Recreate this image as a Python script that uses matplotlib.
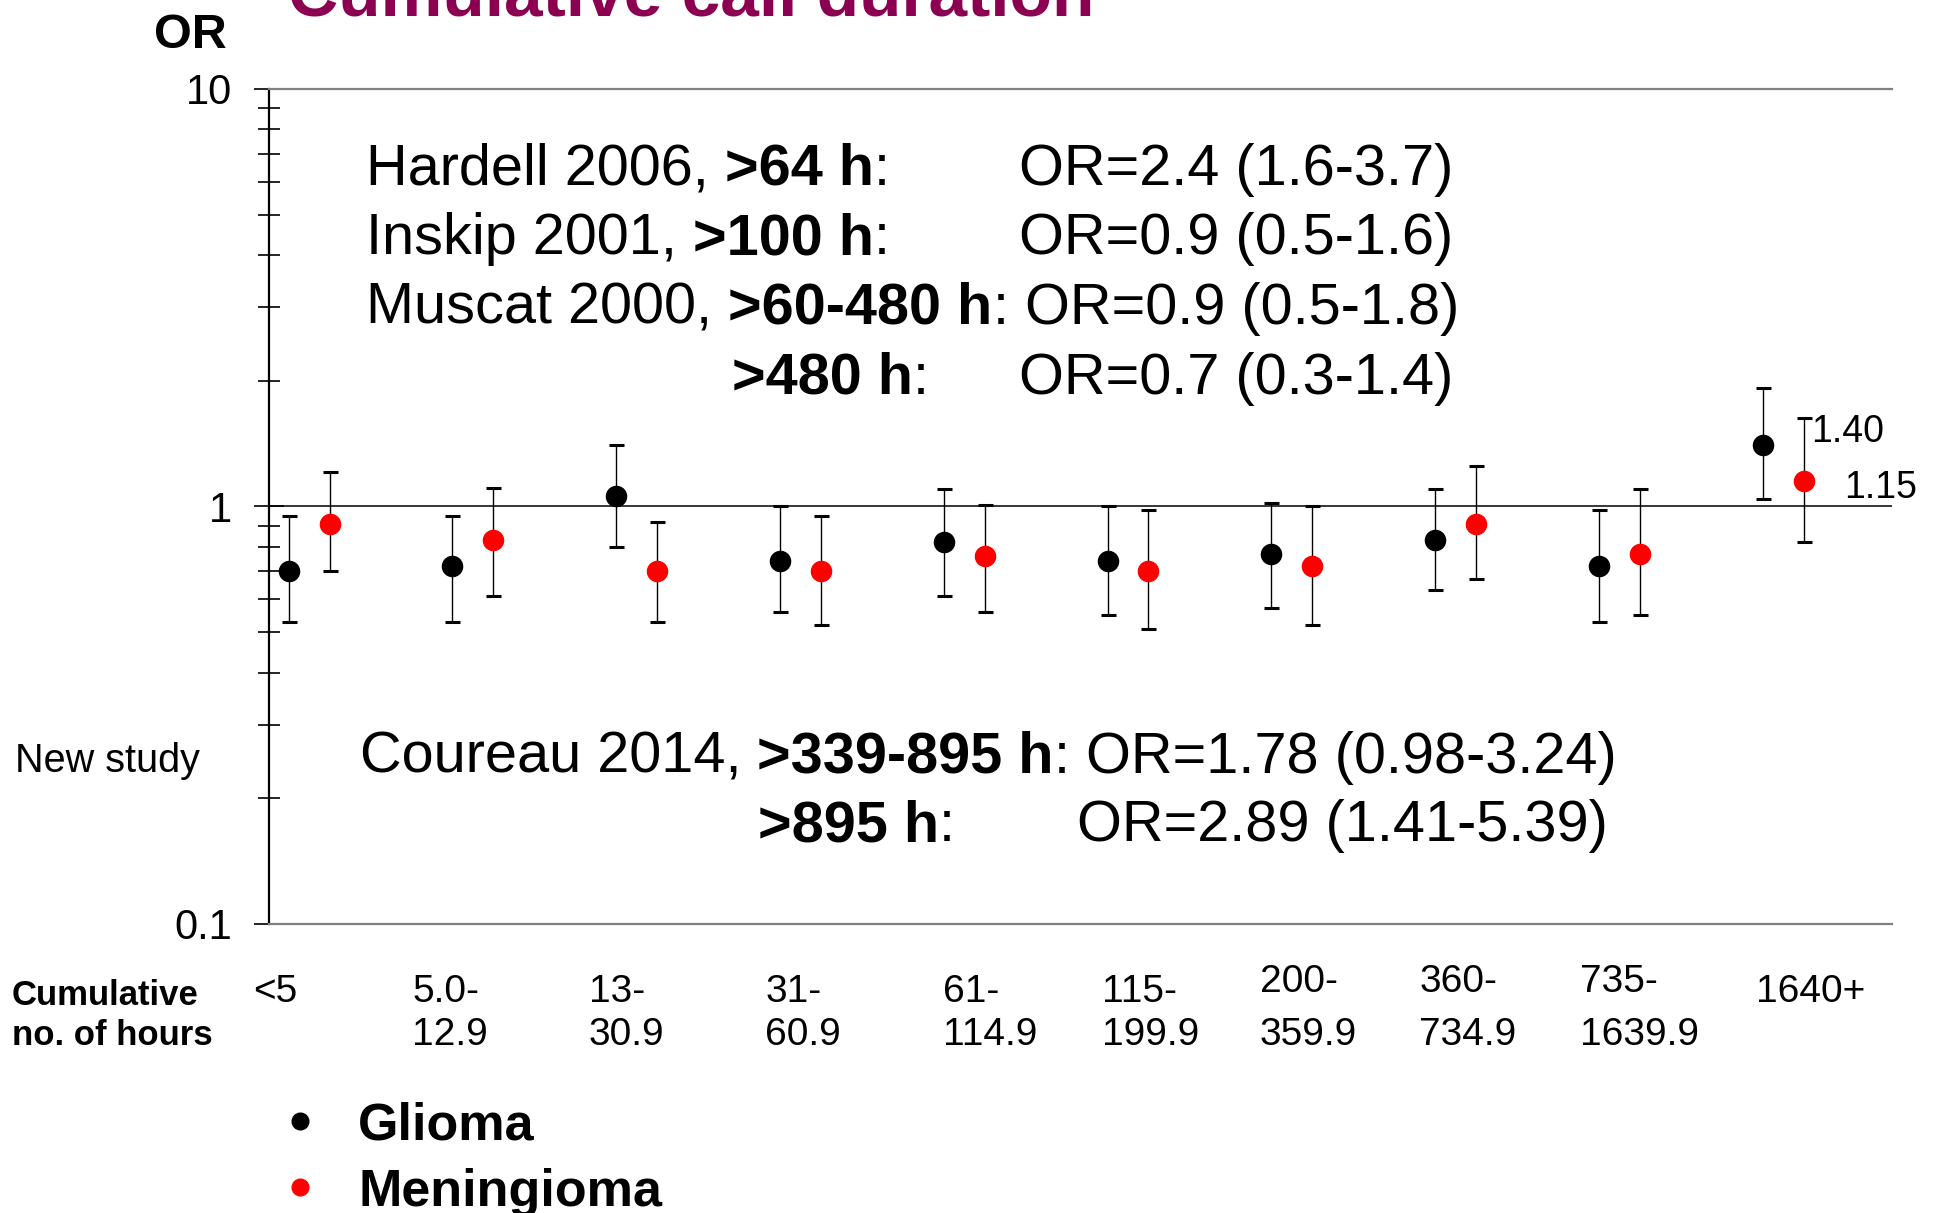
import matplotlib
matplotlib.use('Agg')
import matplotlib.pyplot as plt
import numpy as np
from matplotlib.lines import Line2D
from matplotlib.ticker import LogLocator, NullFormatter, FixedLocator, FixedFormatter

plt.rcParams['font.family'] = ['Liberation Sans', 'DejaVu Sans']

# categories of cumulative call time (hours)
cat_line1 = ['<5', '5.0-', '13-', '31-', '61-', '115-', '200-', '360-', '735-', '1640+']
cat_line2 = ['', '12.9', '30.9', '60.9', '114.9', '199.9', '359.9', '734.9', '1639.9', '']

# odds ratios with 95% CI
glioma_or = [0.70, 0.72, 1.06, 0.74, 0.82, 0.74, 0.77, 0.83, 0.72, 1.40]
glioma_lo = [0.53, 0.53, 0.80, 0.56, 0.61, 0.55, 0.57, 0.63, 0.53, 1.04]
glioma_hi = [0.95, 0.95, 1.40, 1.00, 1.10, 1.00, 1.02, 1.10, 0.98, 1.92]

mening_or = [0.91, 0.83, 0.70, 0.70, 0.76, 0.70, 0.72, 0.91, 0.77, 1.15]
mening_lo = [0.70, 0.61, 0.53, 0.52, 0.56, 0.51, 0.52, 0.67, 0.55, 0.82]
mening_hi = [1.21, 1.11, 0.92, 0.95, 1.01, 0.98, 1.00, 1.25, 1.10, 1.63]

# left edge of each category label (data x) and first-line raise
xlab_pos = [-0.343, 0.629, 1.707, 2.785, 3.870, 4.842, 5.806, 6.778, 7.758, 8.835]
xlab_raise = [0, 0, 0, 0, 0, 0, 1, 1, 1, 0]

TITLE_COL = '#8B0050'
FS = 41.5

fig = plt.figure(figsize=(19.35, 12.13), dpi=100)
ax = fig.add_axes([0.139, 0.2383, 0.8388, 0.6884])

n = len(cat_line1)
xi = np.arange(n)
off = 0.125

g = np.array(glioma_or)
m = np.array(mening_or)
ax.errorbar(xi - off, g, yerr=[g - np.array(glioma_lo), np.array(glioma_hi) - g],
            fmt='o', color='black', ms=14.5, ecolor='black', elinewidth=1.0,
            capsize=5.4, capthick=2.2, zorder=3)
ax.errorbar(xi + off, m, yerr=[m - np.array(mening_lo), np.array(mening_hi) - m],
            fmt='o', color='red', mec='red', ms=14.5, ecolor='black', elinewidth=1.0,
            capsize=5.4, capthick=2.2, zorder=3)

# value labels for the last category
ax.annotate('%.2f' % g[-1], xy=(xi[-1] - off, g[-1]), xytext=(35, 10),
            textcoords='offset points', fontsize=27, ha='left', va='center')
ax.annotate('%.2f' % m[-1], xy=(xi[-1] + off, m[-1]), xytext=(29, -5),
            textcoords='offset points', fontsize=27, ha='left', va='center',
            annotation_clip=False)

ax.set_yscale('log')
ax.set_ylim(0.1, 10)
ax.set_xlim(-0.245, 9.665)
ax.axhline(1, color='black', lw=1.1, zorder=1)

ax.yaxis.set_major_locator(FixedLocator([0.1, 1, 10]))
ax.yaxis.set_major_formatter(FixedFormatter(['0.1', '1', '10']))
ax.yaxis.set_minor_locator(LogLocator(base=10, subs=np.arange(2, 10)))
ax.yaxis.set_minor_formatter(NullFormatter())
ax.tick_params(axis='y', which='major', direction='inout', length=21.6, width=1.2,
               labelsize=30, pad=15.8)
ax.tick_params(axis='y', which='minor', direction='inout', length=15.8, width=1.2)
ax.set_xticks([])

ax.spines['right'].set_visible(False)
ax.spines['left'].set_linewidth(1.6)
ax.spines['top'].set_color('#808080')
ax.spines['top'].set_linewidth(1.6)
ax.spines['bottom'].set_color('#808080')
ax.spines['bottom'].set_linewidth(1.6)

# category labels under the axis
tr = ax.get_xaxis_transform()
for i in range(n):
    y1 = -0.0934 + 0.012 * xlab_raise[i]
    ax.text(xlab_pos[i], y1, cat_line1[i], transform=tr, fontsize=28,
            ha='left', va='baseline', clip_on=False)
    if cat_line2[i]:
        ax.text(xlab_pos[i], -0.1449, cat_line2[i], transform=tr, fontsize=28,
                ha='left', va='baseline', clip_on=False)


def text_row(x, y, parts):
    t = ax.text(x, y, parts[0][0], transform=ax.transAxes, fontsize=FS,
                fontweight=parts[0][1], va='baseline')
    for s, w in parts[1:]:
        t = ax.annotate(s, xy=(1, 0), xycoords=t, xytext=(0, 0),
                        textcoords='offset points', fontsize=FS,
                        fontweight=w, va='bottom')
    return t


text_row(0.060, 0.885, [('Hardell 2006,', 'normal'), (' >64 h', 'bold'), (':', 'normal')])
ax.text(0.462, 0.885, 'OR=2.4 (1.6-3.7)', transform=ax.transAxes, fontsize=FS, va='baseline')
text_row(0.060, 0.802, [('Inskip 2001,', 'normal'), (' >100 h', 'bold'), (':', 'normal')])
ax.text(0.462, 0.802, 'OR=0.9 (0.5-1.6)', transform=ax.transAxes, fontsize=FS, va='baseline')
text_row(0.060, 0.719, [('Muscat 2000,', 'normal'), (' >60-480 h', 'bold'), (':', 'normal')])
ax.text(0.466, 0.719, 'OR=0.9 (0.5-1.8)', transform=ax.transAxes, fontsize=FS, va='baseline')
text_row(0.285, 0.635, [('>480 h', 'bold'), (':', 'normal')])
ax.text(0.462, 0.635, 'OR=0.7 (0.3-1.4)', transform=ax.transAxes, fontsize=FS, va='baseline')

text_row(0.056, 0.181, [('Coureau 2014,', 'normal'), (' >339-895 h', 'bold'), (':', 'normal'),
                        (' OR=1.78 (0.98-3.24)', 'normal')])
text_row(0.301, 0.099, [('>895 h', 'bold'), (':', 'normal')])
ax.text(0.498, 0.099, 'OR=2.89 (1.41-5.39)', transform=ax.transAxes, fontsize=FS, va='baseline')

# figure-level labels
fig.text(0.1486, 1 - 15 / 1213, 'Cumulative call duration', fontsize=50,
         fontweight='bold', color=TITLE_COL, va='baseline')
fig.text(154 / 1935, 1 - 48 / 1213, 'OR', fontsize=35, fontweight='bold', va='baseline')
fig.text(15 / 1935, 1 - 772 / 1213, 'New study', fontsize=28.5, va='baseline')
fig.text(12 / 1935, 1 - 1045 / 1213, 'Cumulative\nno. of hours', fontsize=25,
         fontweight='bold', va='baseline', linespacing=1.26)

handles = [Line2D([], [], ls='none', marker='o', color='black', ms=12),
           Line2D([], [], ls='none', marker='o', color='red', ms=12)]
fig.legend(handles, ['Glioma', 'Meningioma'], loc='center left',
           bbox_to_anchor=(279 / 1935, 1 - 1159 / 1213), frameon=False,
           prop={'weight': 'bold', 'size': 37.5}, handlelength=0.8,
           handletextpad=0.72, labelspacing=0.33, borderpad=0, borderaxespad=0)

plt.savefig('out.png', dpi=100)
